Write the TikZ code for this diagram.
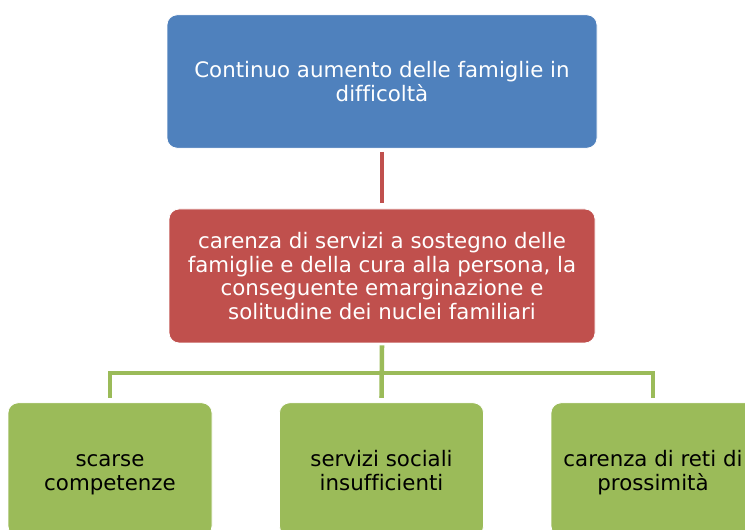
\documentclass[tikz,border=0pt]{standalone}
\usepackage{fontspec}
\setmainfont[Ligatures=NoCommon]{DejaVu Sans}
\definecolor{cblue}{HTML}{4F81BD}
\definecolor{cred}{HTML}{C0504D}
\definecolor{cgreen}{HTML}{9BBB59}
\newcommand{\gtop}{\rule{0pt}{19pt}}
\begin{document}
\begin{tikzpicture}[x=0.75pt,y=-0.75pt,
  boxbase/.style={draw=white,line width=0.6pt,rounded corners=7.5pt,inner sep=0pt,align=center,font=\fontsize{16pt}{17.6pt}\selectfont},
  bluebox/.style={boxbase,fill=cblue,text=white,minimum width=322.5pt,minimum height=100pt},
  redbox/.style={boxbase,fill=cred,text=white,minimum width=319.5pt,minimum height=100.5pt},
  greenbox/.style={boxbase,fill=cgreen,text=black,minimum width=153pt,minimum height=100pt},
  redline/.style={draw=cred,line width=3pt},
  greenline/.style={draw=cgreen,line width=3.4pt}]
\useasboundingbox (0,0) rectangle (745,530);
\clip (0,0) rectangle (745,530);
\node[bluebox] (top) at (382,81.5) {Continuo aumento delle famiglie in\\difficoltà};
\node[redbox] (mid) at (382,276) {carenza di servizi a sostegno delle\\famiglie e della cura alla persona, la\\conseguente emarginazione e\\solitudine dei nuclei familiari};
\node[greenbox] (g1) at (110,469.5) {\gtop scarse\\\strut competenze};
\node[greenbox] (g2) at (381.5,469.5) {\gtop servizi sociali\\\strut insufficienti};
\node[greenbox] (g3) at (653,469.5) {\gtop carenza di reti di\\\strut prossimità};
\coordinate (hub) at (381.5,373);
\draw[redline] ([yshift=-2.5pt]top.south) -- ([yshift=4.5pt]mid.north);
\draw[greenline] ([yshift=-1.5pt]mid.south) -- ([yshift=3.5pt]g2.north);
\draw[greenline] ([yshift=3.5pt]g1.north) -- (g1.north |- hub) -- (g3.north |- hub) -- ([yshift=3.5pt]g3.north);
\end{tikzpicture}
\end{document}
